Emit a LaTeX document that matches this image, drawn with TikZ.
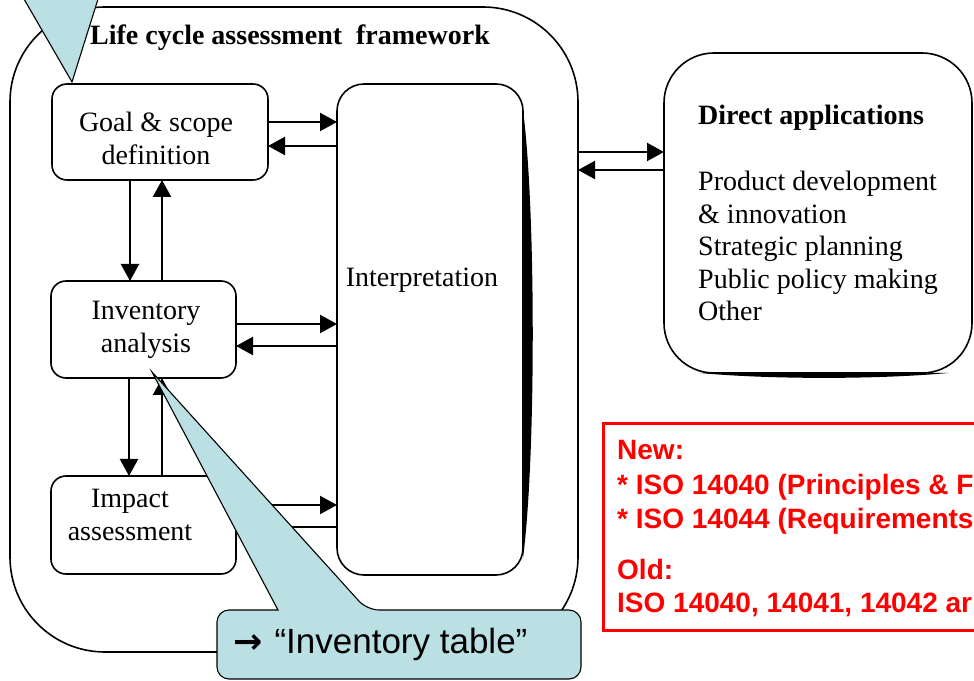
\documentclass[tikz,border=0pt]{standalone}
\usepackage{fontspec}
\setmainfont{Liberation Serif}
\newfontfamily\arialfont{Liberation Sans}
\newfontfamily\arrowfont{DejaVu Sans}
\usetikzlibrary{arrows.meta,calc}
\definecolor{calloutblue}{RGB}{186,224,228}
\definecolor{isored}{RGB}{255,0,0}

\begin{document}
\begin{tikzpicture}[x=1pt,y=1pt,
  panel/.style={draw=black, line width=1.6pt, rounded corners=#1,
    inner sep=0pt, outer sep=0pt},
  serif/.style={font=\fontsize{28}{33}\selectfont, align=center, inner sep=0pt},
  serifbold/.style={font=\fontsize{28}{33}\selectfont\bfseries, inner sep=0pt},
  redtxt/.style={font=\arialfont\fontsize{28}{33}\selectfont\bfseries,
    text=isored, inner sep=0pt, anchor=base west},
  arr/.style={line width=2.2pt, -{Triangle[length=17pt,width=18pt]}},
  callout/.style={fill=calloutblue, draw=black, line width=1.1pt},
]
\path[use as bounding box] (0,0) rectangle (974,680);
\clip (0,0) rectangle (974,680);

% LCA framework frame and its phases
\node[panel=95pt, minimum width=568pt, minimum height=645pt] (frame) at (294,350.5) {};
\node[panel=15pt, minimum width=216pt, minimum height=96pt] (goal) at (160,548) {};
\node[panel=15pt, minimum width=185pt, minimum height=97pt] (inv) at (143.5,350.5) {};
\node[panel=15pt, minimum width=185pt, minimum height=98pt] (imp) at (143.5,155) {};
\node[panel=27pt, minimum width=186pt, minimum height=491pt] (interp) at (430,350.5) {};
\node[panel=50pt, minimum width=308pt, minimum height=320pt] (apps) at (818,467) {};

% shadow edges
\fill ($(interp.east)+(0,219.5)$) .. controls +(13,-100) and +(13,100) .. ($(interp.east)+(0,-228.5)$) -- cycle;
\fill ($(apps.south)+(-118,0)$) .. controls +(70,-6.5) and +(-70,-6.5) .. ($(apps.south)+(130,0)$) -- cycle;

% texts
\node[serifbold, anchor=base west] (frametitle) at (90,635) {Life cycle assessment\ \ framework};
\node[serif] (goaltxt) at (156,541.5) {Goal \& scope\\definition};
\node[serif] (invtxt) at (146,350.5) {Inventory\\analysis};
\node[serif] (imptxt) at (130,165) {Impact\\assessment};
\node[serif, anchor=base] (interptxt) at (422,393) {Interpretation};

\node[serifbold, anchor=base west] (appstitle) at (698,555) {Direct applications};
\foreach \line [count=\i] in {Product development, \& innovation, Strategic planning,
    Public policy making, Other}
  \node[serif, anchor=base west] (appline\i) at (698,{489-32.5*(\i-1)}) {\line};

% arrows between phases
\draw[arr] ($(goal.east)+(0,10)$) -- ($(interp.west |- goal.east)+(0,10)$);
\draw[arr] ($(interp.west |- goal.east)+(0,-14)$) -- ($(goal.east)+(0,-14)$);
\draw[arr] ($(inv.east)+(0,5.5)$) -- ($(interp.west |- inv.east)+(0,5.5)$);
\draw[arr] ($(interp.west |- inv.east)+(0,-16.5)$) -- ($(inv.east)+(0,-16.5)$);
\draw[arr] ($(imp.east)+(0,20)$) -- ($(interp.west |- imp.east)+(0,20)$);
\draw[arr] ($(interp.west |- imp.east)+(0,-2)$) -- ($(imp.east)+(0,-2)$);

\draw[arr] ($(goal.south)+(-30,0)$) -- ($(inv.north -| goal.south)+(-30,0)$);
\draw[arr] ($(inv.north -| goal.south)+(2,0)$) -- ($(goal.south)+(2,0)$);
\draw[arr] ($(inv.south)+(-14.5,0)$) -- ($(imp.north -| inv.south)+(-14.5,0)$);
\draw[arr] ($(imp.north -| inv.south)+(18.5,0)$) -- ($(inv.south)+(18.5,0)$);

\draw[arr] ($(frame.east)+(0,177.5)$) -- ($(apps.west |- frame.east)+(0,177.5)$);
\draw[arr] ($(apps.west |- frame.east)+(0,159.5)$) -- ($(frame.east)+(0,159.5)$);

% callouts
\coordinate (goaltip) at ($(goal.north)+(-88,2)$);
\draw[callout] (13,700) -- (goaltip) -- (104,700) -- cycle;

\coordinate (invtip) at ($(inv.south)+(8.5,6)$);
\draw[callout] (400,1) [rounded corners=12pt] -- (581,1) -- (581,70) -- (367,70)
  [sharp corners] -- (invtip) -- (278,70) [rounded corners=12pt] -- (217,70) -- (217,1) -- cycle;
\node[font=\arialfont\fontsize{35}{40}\selectfont, anchor=base west, inner sep=0pt]
  (invtable) at (233,27) {{\arrowfont\bfseries\fontsize{35}{40}\selectfont →}\hspace{12pt}“Inventory table”};

% ISO standards
\node[draw=isored, line width=3pt, minimum width=400pt, minimum height=207pt,
  anchor=south west, inner sep=0pt] (isobox) at (602,48) {};
\node[redtxt] (isonew) at (617,220) {New:};
\node[redtxt] (iso1) at (617,185) {* ISO 14040 (Principles \& F};
\node[redtxt] (iso2) at (617,151) {* ISO 14044 (Requirements};
\node[redtxt] (isoold) at (617,100) {Old:};
\node[redtxt] (iso3) at (617,67) {ISO 14040, 14041, 14042 ar};
\end{tikzpicture}
\end{document}
